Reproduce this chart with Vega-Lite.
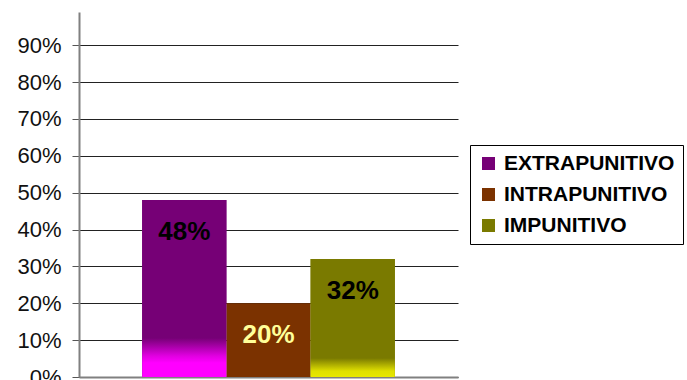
{
  "$schema": "https://vega.github.io/schema/vega-lite/v6.json",
  "autosize": {"type": "none"},
  "width": 379,
  "height": 365,
  "padding": {"left": 79, "top": 12, "right": 229, "bottom": 3},
  "background": "white",
  "data": {"values": [
    {"cat": "EXTRAPUNITIVO", "value": 0.48},
    {"cat": "INTRAPUNITIVO", "value": 0.20},
    {"cat": "IMPUNITIVO", "value": 0.32}
  ]},
  "config": {
    "view": {"stroke": null},
    "font": "Liberation Sans"
  },
  "encoding": {
    "x": {"field": "cat", "type": "nominal", "sort": null,
      "scale": {"paddingInner": 0, "paddingOuter": 0.75},
      "axis": {"labels": false, "ticks": false, "title": null, "domainColor": "#808080", "domainWidth": 2, "grid": false}},
    "y": {"field": "value", "type": "quantitative",
      "scale": {"domain": [0, 0.99], "nice": false, "zero": true},
      "axis": {"title": null, "format": ".0%", "values": [0, 0.1, 0.2, 0.3, 0.4, 0.5, 0.6, 0.7, 0.8, 0.9],
        "grid": true, "gridColor": "#222", "gridWidth": 1, "gridOpacity": 1,
        "tickSize": 7, "tickColor": "#555", "tickWidth": 1,
        "domainColor": "#808080", "domainWidth": 2,
        "labelFont": "Liberation Sans", "labelFontSize": 22, "labelColor": "#111", "labelPadding": 11}}
  },
  "layer": [
    {
      "mark": {"type": "bar", "stroke": null},
      "encoding": {
        "color": {"field": "cat", "type": "nominal", "sort": null,
          "scale": {"domain": ["EXTRAPUNITIVO", "INTRAPUNITIVO", "IMPUNITIVO"], "range": ["#760076", "#7B3200", "#7A7A00"]},
          "legend": {"title": null, "orient": "none", "legendX": 391, "legendY": 133,
            "symbolType": "square", "symbolSize": 169, "symbolStrokeWidth": 0,
            "labelFont": "Liberation Sans", "labelFontSize": 21, "labelFontWeight": "bold", "labelColor": "#000",
            "labelOffset": 5, "labelLimit": 400, "rowPadding": 9, "padding": 8,
            "strokeColor": "#000", "fillColor": "white"}}
      }
    },
    {
      "transform": [{"filter": "datum.cat === 'EXTRAPUNITIVO'"}],
      "mark": {"type": "bar", "stroke": null, "color": {"gradient": "linear", "x1": 0, "y1": 0, "x2": 0, "y2": 1,
        "stops": [
          {"offset": 0, "color": "#760076"},
          {"offset": 0.78, "color": "#760076"},
          {"offset": 0.88, "color": "#E000E0"},
          {"offset": 0.92, "color": "#FF00FF"},
          {"offset": 1, "color": "#FF00FF"}
        ]}}
    },
    {
      "transform": [{"filter": "datum.cat === 'IMPUNITIVO'"}],
      "mark": {"type": "bar", "stroke": null, "color": {"gradient": "linear", "x1": 0, "y1": 0, "x2": 0, "y2": 1,
        "stops": [
          {"offset": 0, "color": "#7A7A00"},
          {"offset": 0.84, "color": "#7A7A00"},
          {"offset": 0.95, "color": "#E0E000"},
          {"offset": 1, "color": "#E8E800"}
        ]}}
    },
    {
      "mark": {"type": "text", "baseline": "middle", "align": "center", "dy": 32, "font": "Liberation Sans", "fontSize": 26, "fontWeight": "bold"},
      "encoding": {
        "text": {"field": "value", "type": "quantitative", "format": ".0%"},
        "color": {"condition": {"test": "datum.cat === 'INTRAPUNITIVO'", "value": "#FFFF99"}, "value": "#000"}
      }
    }
  ]
}
